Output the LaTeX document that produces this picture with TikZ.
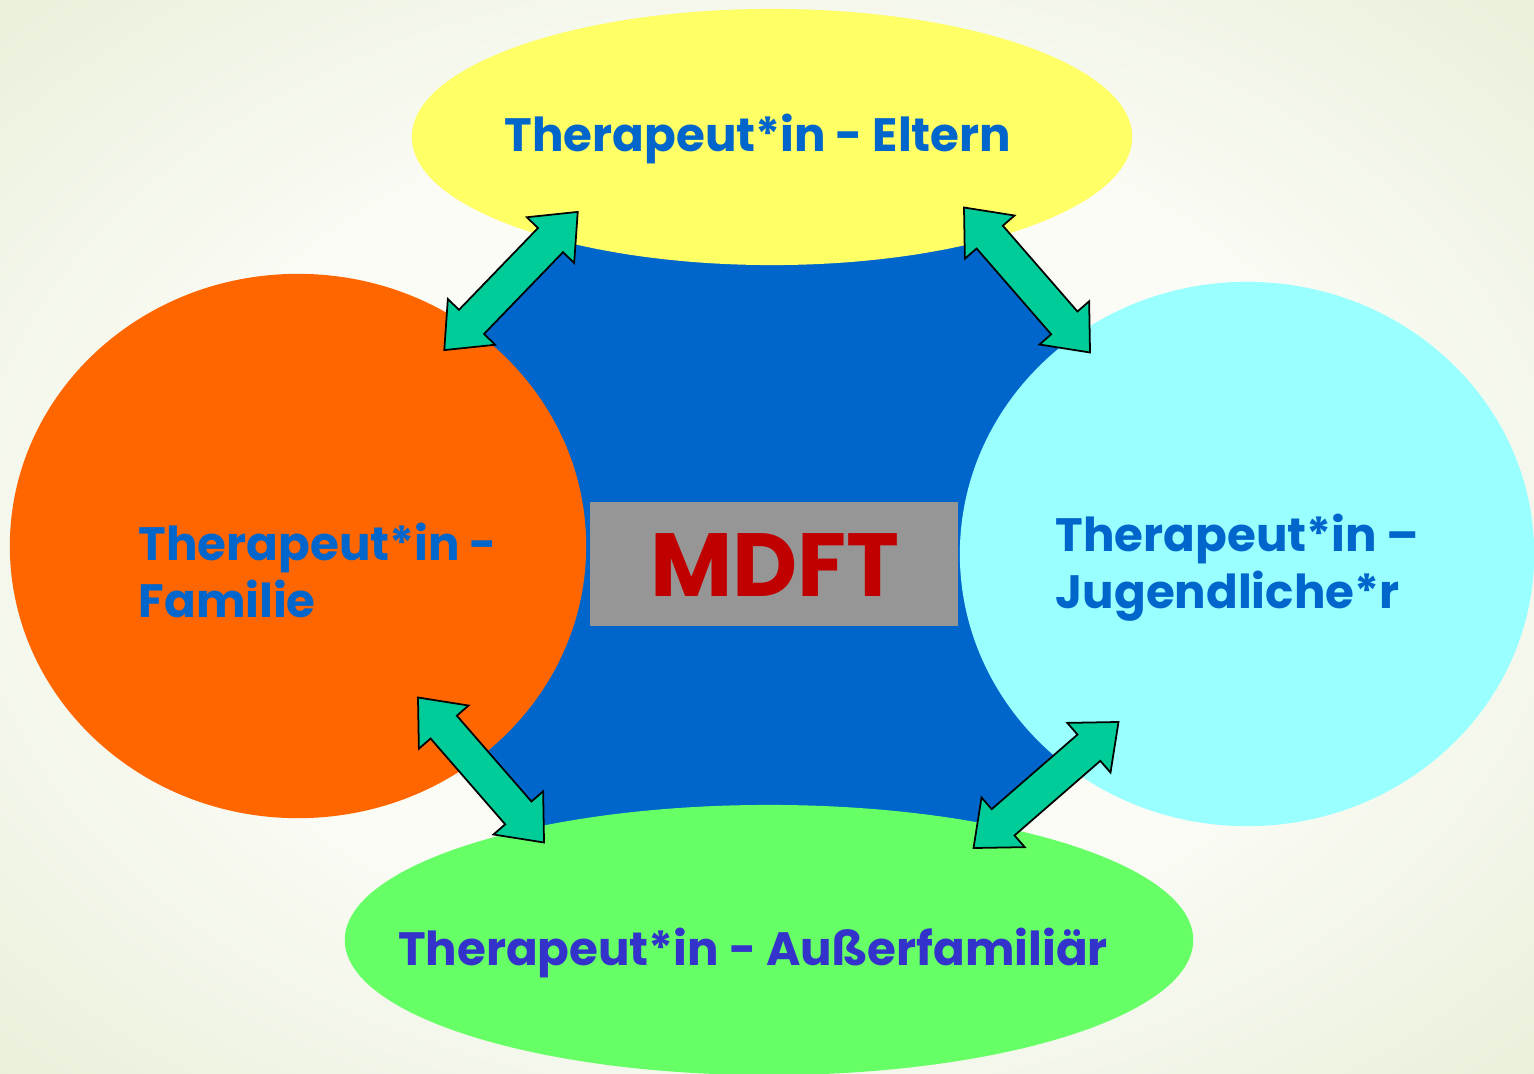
\documentclass[tikz,border=0pt]{standalone}
\usepackage{fontspec}
\setmainfont{Poppins}
\usetikzlibrary{shapes.geometric,shapes.arrows}
\definecolor{bgmitte}{HTML}{FCFCF7}
\definecolor{bgrand}{HTML}{E9F0DA}
\definecolor{mdftblau}{HTML}{0066CC}
\definecolor{gelb}{HTML}{FFFF66}
\definecolor{orange}{HTML}{FF6600}
\definecolor{hellblau}{HTML}{99FFFF}
\definecolor{gruen}{HTML}{66FF66}
\definecolor{grau}{HTML}{969696}
\definecolor{mdftrot}{HTML}{C00000}
\definecolor{pfeilgruen}{HTML}{00CC99}
\definecolor{violett}{HTML}{3333CC}
\pgfdeclareradialshading{hintergrund}{\pgfpoint{0bp}{0bp}}{color(0bp)=(bgmitte); color(18bp)=(bgmitte); color(36bp)=(bgrand); color(50bp)=(bgrand)}
\begin{document}
\begin{tikzpicture}[x=0.01cm,y=-0.01cm,
	oval/.style={ellipse,inner sep=0pt},
	pfeil/.style={double arrow,draw=black,line width=0.5pt,fill=pfeilgruen,inner xsep=0pt,inner ysep=0.165cm,minimum height=1.92cm,double arrow head extend=0.155cm,double arrow tip angle=80},
	schrift/.style={font=\fontsize{13.3}{16.2}\selectfont\bfseries,text=mdftblau,inner sep=0pt}]
	\useasboundingbox (0,0) rectangle (1534,1073);
	\shade[shading=hintergrund] (0,0) rectangle (1534,1073);
	\clip (0,0) rectangle (1534,1073);
	\node[circle,fill=mdftblau,minimum size=7.4cm] (mitte) at (773,545) {};
	\node[oval,fill=gelb,minimum width=7.2cm,minimum height=2.56cm] (eltern) at (772,137) {};
	\node[oval,fill=orange,minimum width=5.76cm,minimum height=5.44cm] (familie) at (298,546) {};
	\node[oval,fill=hellblau,minimum width=5.74cm,minimum height=5.44cm] (jugend) at (1247,554) {};
	\node[oval,fill=gruen,minimum width=8.48cm,minimum height=2.7cm] (ausser) at (769,940) {};
	\node[fill=grau,minimum width=3.68cm,minimum height=1.24cm,inner sep=0pt] (mdft) at (774,564) {};
	\node[text=mdftrot,font=\fontsize{25.5}{30}\selectfont\bfseries,anchor=base] (mdfttext) at (775,596) {MDFT};
	\node[schrift,anchor=base] (t-eltern) at (758,152) {Therapeut*in - Eltern};
	\node[schrift,anchor=west,align=left] (t-familie) at (138,570) {Therapeut*in -\\Familie};
	\node[schrift,anchor=west,align=left] (t-jugend) at (1055,568) {Therapeut*in –\\Jugendliche*r};
	\node[schrift,text=violett,anchor=base] (t-ausser) at (753,965) {Therapeut*in - Außerfamiliär};
	\node[pfeil,rotate=46] (p-links-oben) at (511,281) {};
	\node[pfeil,rotate=-49] (p-rechts-oben) at (1027,280) {};
	\node[pfeil,rotate=-49] (p-links-unten) at (481,770) {};
	\node[pfeil,rotate=41] (p-rechts-unten) at (1046,785) {};
\end{tikzpicture}
\end{document}
